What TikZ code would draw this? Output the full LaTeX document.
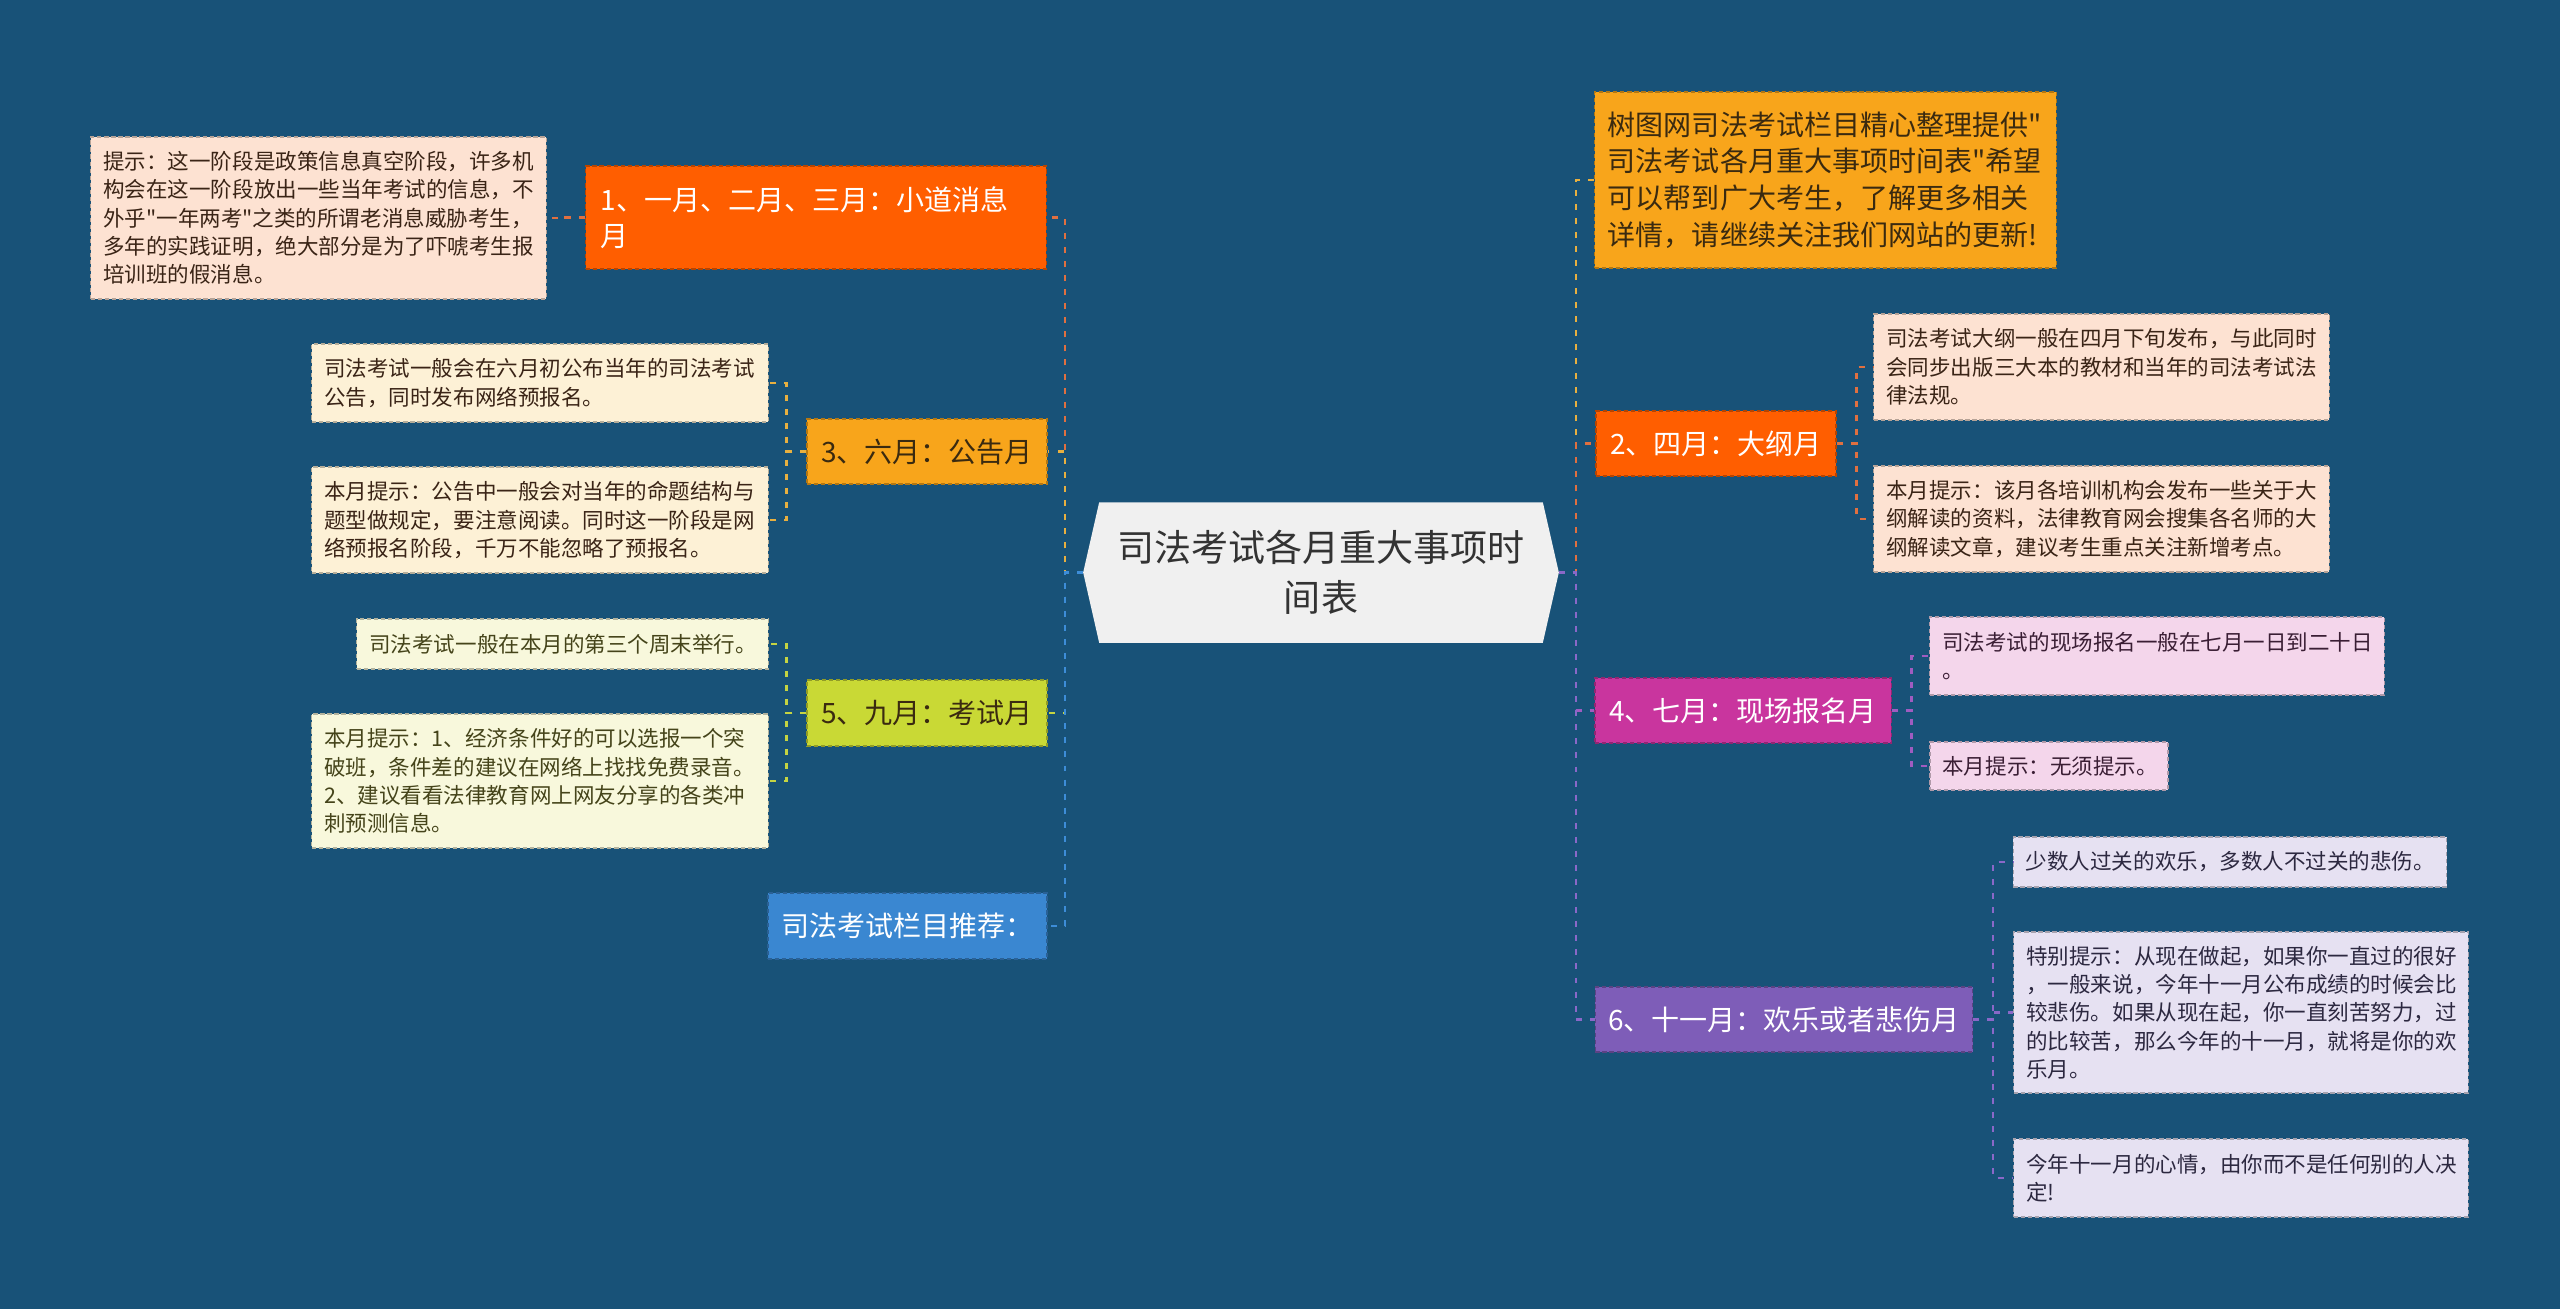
\documentclass[tikz,border=0pt]{standalone}
\usepackage{fontspec}
\setmainfont{Noto Sans CJK SC}[Ligatures=TeXOff]
\usetikzlibrary{backgrounds}
\definecolor{bgc}{HTML}{185278}
\definecolor{cCenter}{HTML}{F0F0F0}
\definecolor{cOrg}{HTML}{FF5E00}
\definecolor{cYel}{HTML}{F8A51B}
\definecolor{cLime}{HTML}{C9D935}
\definecolor{cBlue}{HTML}{3A87D1}
\definecolor{cMag}{HTML}{C9359E}
\definecolor{cPur}{HTML}{7E5DB8}
\definecolor{nPeach}{HTML}{FDE2D2}
\definecolor{nCream}{HTML}{FDF1D6}
\definecolor{nIvory}{HTML}{F8F8DC}
\definecolor{nPink}{HTML}{F4D6EB}
\definecolor{nLav}{HTML}{E6E1F2}
\definecolor{kOrg}{HTML}{E07040}
\definecolor{kYel}{HTML}{E8B040}
\definecolor{kLime}{HTML}{C5D442}
\definecolor{kBlue}{HTML}{3D8DD8}
\definecolor{kMag}{HTML}{A05CC0}
\definecolor{kPur}{HTML}{8A68C8}
\definecolor{tBrown}{HTML}{3A2416}
\definecolor{tOlive}{HTML}{45441A}
\definecolor{tPlum}{HTML}{3A1E34}
\definecolor{tInk}{HTML}{2C2840}
\definecolor{tCenter}{HTML}{333333}
\definecolor{tDark}{HTML}{3A2A10}

\newcommand\pxf[2]{\fontsize{#1pt}{#2pt}\selectfont}

\tikzset{
  box/.style={rectangle, inner sep=0pt, fill=#1, draw=#1!72!black, line width=0.34pt, dash pattern=on 1.2pt off 0.8pt},
  title/.style={font=\pxf{7.97}{10.24}, align=center},
  note/.style={font=\pxf{6.12}{8.05}, align=left},
  conn/.style={line width=0.7pt, dash pattern=on 1.7pt off 2.3pt},
}

\begin{document}
\begin{tikzpicture}[x=0.01cm, y=-0.01cm]
\useasboundingbox (0,0) rectangle (2560,1309);
\begin{scope}[on background layer]
\fill[bgc] (0,0) rectangle (2560,1309);
\end{scope}

% centre
\node[font=\pxf{10.53}{14.23}, text=tCenter, align=center, inner sep=0pt,
      minimum width=4.74cm, minimum height=1.39cm] (C) at (1321,572.5)
      {司法考试各月重大事项时\\间表};
\begin{scope}[on background layer]
\fill[cCenter] (C.west) -- ([xshift=0.16cm]C.north west) -- ([xshift=-0.16cm]C.north east)
  -- (C.east) -- ([xshift=-0.16cm]C.south east) -- ([xshift=0.16cm]C.south west) -- cycle;
\end{scope}

% ---------- left side ----------
\node[box=cOrg, text=white, font=\pxf{7.97}{10.24}, align=left, text width=4.30cm,
      minimum width=4.60cm, minimum height=1.03cm] (L1) at (816,217.5)
      {1、一月、二月、三月：小道消息\\月};
\node[box=nPeach, note, text=tBrown, text width=4.30cm, minimum width=4.55cm, minimum height=1.62cm] (L1n) at (318.5,218)
      {提示：这一阶段是政策信息真空阶段，许多机\\构会在这一阶段放出一些当年考试的信息，不\\外乎"一年两考"之类的所谓老消息威胁考生，\\多年的实践证明，绝大部分是为了吓唬考生报\\培训班的假消息。};

\node[box=cYel, title, text=tDark, minimum width=2.40cm, minimum height=0.65cm] (L3) at (927,451.5)
      {3、六月：公告月};
\node[box=nCream, note, text=tBrown, text width=4.31cm, minimum width=4.56cm, minimum height=0.78cm] (L3a) at (540,383)
      {司法考试一般会在六月初公布当年的司法考试\\公告，同时发布网络预报名。};
\node[box=nCream, note, text=tBrown, text width=4.31cm, minimum width=4.56cm, minimum height=1.06cm] (L3b) at (540,520)
      {本月提示：公告中一般会对当年的命题结构与\\题型做规定，要注意阅读。同时这一阶段是网\\络预报名阶段，千万不能忽略了预报名。};

\node[box=cLime, title, text=tDark, minimum width=2.40cm, minimum height=0.66cm] (L5) at (927,713)
      {5、九月：考试月};
\node[box=nIvory, note, text=tOlive, text width=3.86cm, minimum width=4.11cm, minimum height=0.50cm] (L5a) at (562.5,644)
      {司法考试一般在本月的第三个周末举行。};
\node[box=nIvory, note, text=tOlive, text width=4.31cm, minimum width=4.56cm, minimum height=1.34cm] (L5b) at (540,781)
      {本月提示：1、经济条件好的可以选报一个突\\破班，条件差的建议在网络上找找免费录音。\\2、建议看看法律教育网上网友分享的各类冲\\刺预测信息。};

\node[box=cBlue, title, text=white, minimum width=2.79cm, minimum height=0.66cm] (Lb) at (907.5,926)
      {司法考试栏目推荐：};

% ---------- right side ----------
\node[box=cYel, text=tDark, font=\pxf{7.97}{10.44}, align=left, text width=4.35cm,
      minimum width=4.61cm, minimum height=1.76cm] (R0) at (1825.5,180)
      {树图网司法考试栏目精心整理提供"\\司法考试各月重大事项时间表"希望\\可以帮到广大考生，了解更多相关\\详情，请继续关注我们网站的更新!};

\node[box=cOrg, title, text=white, minimum width=2.40cm, minimum height=0.65cm] (R2) at (1716,443.5)
      {2、四月：大纲月};
\node[box=nPeach, note, text=tBrown, text width=4.30cm, minimum width=4.55cm, minimum height=1.06cm] (R2a) at (2101.5,367)
      {司法考试大纲一般在四月下旬发布，与此同时\\会同步出版三大本的教材和当年的司法考试法\\律法规。};
\node[box=nPeach, note, text=tBrown, text width=4.30cm, minimum width=4.55cm, minimum height=1.06cm] (R2b) at (2101.5,519)
      {本月提示：该月各培训机构会发布一些关于大\\纲解读的资料，法律教育网会搜集各名师的大\\纲解读文章，建议考生重点关注新增考点。};

\node[box=cMag, title, text=white, minimum width=2.96cm, minimum height=0.65cm] (R4) at (1743,710.5)
      {4、七月：现场报名月};
\node[box=nPink, note, text=tPlum, text width=4.29cm, minimum width=4.54cm, minimum height=0.78cm] (R4a) at (2157,656)
      {司法考试的现场报名一般在七月一日到二十日\\。};
\node[box=nPink, note, text=tPlum, text width=2.13cm, minimum width=2.38cm, minimum height=0.48cm] (R4b) at (2049,766)
      {本月提示：无须提示。};

\node[box=cPur, title, text=white, minimum width=3.77cm, minimum height=0.65cm] (R6) at (1784,1019.5)
      {6、十一月：欢乐或者悲伤月};
\node[box=nLav, note, text=tInk, text width=4.08cm, minimum width=4.33cm, minimum height=0.50cm] (R6a) at (2230,862)
      {少数人过关的欢乐，多数人不过关的悲伤。};
\node[box=nLav, note, text=tInk, text width=4.29cm, minimum width=4.54cm, minimum height=1.61cm] (R6b) at (2241,1012.5)
      {特别提示：从现在做起，如果你一直过的很好\\，一般来说，今年十一月公布成绩的时候会比\\较悲伤。如果从现在起，你一直刻苦努力，过\\的比较苦，那么今年的十一月，就将是你的欢\\乐月。};
\node[box=nLav, note, text=tInk, text width=4.29cm, minimum width=4.54cm, minimum height=0.78cm] (R6c) at (2241,1178)
      {今年十一月的心情，由你而不是任何别的人决\\定!};

% ---------- connectors: centre to branches ----------
\draw[conn, kOrg]  (C.west) -- ++(-18,0) |- (L1.east);
\draw[conn, kYel]  (C.west) -- ++(-18,0) |- (L3.east);
\draw[conn, kLime] (C.west) -- ++(-18,0) |- (L5.east);
\draw[conn, kBlue] (C.west) -- ++(-18,0) |- (Lb.east);

\draw[conn, kYel]  (C.east) -- ++(17,0) |- (R0.west);
\draw[conn, kOrg]  (C.east) -- ++(17,0) |- (R2.west);
\draw[conn, kMag]  (C.east) -- ++(17,0) |- (R4.west);
\draw[conn, kPur]  (C.east) -- ++(17,0) |- (R6.west);

% ---------- connectors: branches to notes ----------
\draw[conn, kOrg]  (L1.west) -- ++(-20,0) |- (L1n.east);
\draw[conn, kYel]  (L3.west) -- ++(-20,0) |- (L3a.east);
\draw[conn, kYel]  (L3.west) -- ++(-20,0) |- (L3b.east);
\draw[conn, kLime] (L5.west) -- ++(-20,0) |- (L5a.east);
\draw[conn, kLime] (L5.west) -- ++(-20,0) |- (L5b.east);

\draw[conn, kOrg]  (R2.east) -- ++(20,0) |- (R2a.west);
\draw[conn, kOrg]  (R2.east) -- ++(20,0) |- (R2b.west);
\draw[conn, kMag]  (R4.east) -- ++(20,0) |- (R4a.west);
\draw[conn, kMag]  (R4.east) -- ++(20,0) |- (R4b.west);
\draw[conn, kPur]  (R6.east) -- ++(20,0) |- (R6a.west);
\draw[conn, kPur]  (R6.east) -- ++(20,0) |- (R6b.west);
\draw[conn, kPur]  (R6.east) -- ++(20,0) |- (R6c.west);
\end{tikzpicture}
\end{document}
